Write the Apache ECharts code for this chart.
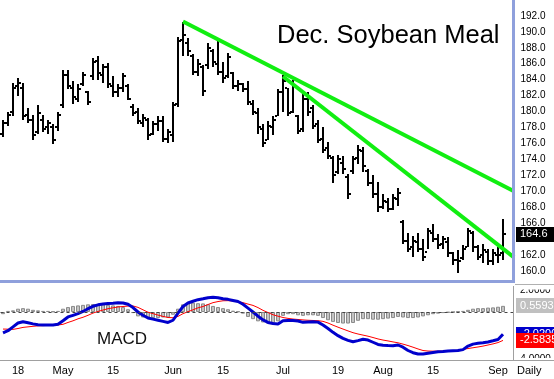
<!DOCTYPE html>
<html><head><meta charset="utf-8">
<script src="https://cdn.jsdelivr.net/npm/echarts@6/dist/echarts.min.js"></script>
<style>html,body{margin:0;padding:0;background:#fff}#c{width:554px;height:379px}</style>
</head><body><div id="c"></div>
<script>
// ---- price bars (index 0..100, daily) ----
const highs = [179.0,180.0,183.6,184.2,183.6,180.5,179.6,180.8,179.6,179.0,
178.4,179.9,185.2,185.2,183.8,183.4,185.0,182.6,186.7,187.0,
186.0,186.1,184.4,183.4,184.9,183.4,180.9,180.5,179.7,179.2,
178.8,179.4,179.4,177.8,181.2,189.4,191.3,189.2,187.2,186.6,
185.8,188.6,187.8,188.8,186.2,187.3,185.0,184.0,183.6,183.8,
181.5,180.4,178.4,178.8,179.5,182.8,184.6,183.0,184.0,179.6,
182.2,182.4,180.8,179.0,178.0,176.2,174.4,174.6,174.4,172.2,
174.4,175.8,175.6,172.8,172.0,171.2,169.6,169.2,169.6,170.4,
166.4,164.8,164.4,164.8,164.0,165.4,165.9,164.6,164.4,164.2,
162.4,162.6,163.2,165.4,165.0,163.2,163.4,162.8,162.8,163.0,166.5];
const lows = [176.8,178.2,179.5,182.0,179.0,178.6,176.4,177.2,177.4,177.2,
175.9,177.6,180.4,182.8,181.0,181.2,183.2,180.8,184.0,184.0,
183.6,183.0,181.8,181.8,182.4,181.4,179.4,178.4,178.0,176.4,
177.0,177.6,176.2,176.0,176.2,180.6,187.0,187.0,184.6,184.4,
182.0,185.4,185.6,184.6,183.6,184.2,182.8,182.6,182.4,180.8,
179.6,177.2,175.6,176.4,177.0,179.4,180.0,179.4,179.8,177.2,
177.4,179.4,177.8,176.0,174.8,174.0,171.0,172.2,172.2,169.0,
172.2,173.4,172.4,170.6,169.2,167.4,167.8,167.4,167.6,168.2,
163.4,162.4,161.8,162.4,161.2,162.8,163.6,162.8,162.8,161.8,
160.8,159.8,161.4,163.0,162.4,161.4,161.0,160.8,160.8,161.0,161.4];
const opens = [177.2,178.6,180.0,183.2,183.0,179.6,179.0,177.4,179.0,178.0,
178.0,178.0,180.8,184.6,183.0,181.6,183.4,182.4,184.4,186.4,
184.6,185.6,183.2,182.4,183.0,183.2,180.6,180.0,178.6,179.0,
177.2,178.4,178.8,176.6,177.0,181.0,189.0,188.6,187.0,185.0,
185.6,185.8,187.6,186.0,185.0,184.4,184.8,183.2,183.4,182.8,
181.0,179.8,177.8,176.4,178.0,179.4,182.4,183.0,180.0,179.4,
177.8,181.6,180.4,178.4,176.6,175.4,174.2,172.4,173.6,171.8,
172.6,174.2,175.0,172.6,171.0,169.6,168.0,168.6,167.8,169.0,
166.2,163.8,163.0,163.6,162.8,162.4,164.8,164.0,163.4,163.6,
162.2,161.4,161.6,163.0,164.8,163.0,162.0,162.4,161.2,162.0,162.2];
const closes = [178.6,179.6,183.0,183.6,179.4,179.0,177.0,179.8,177.8,178.6,
176.4,179.6,184.6,183.2,181.8,182.8,184.6,181.2,186.2,184.8,
185.6,183.4,182.4,183.0,184.4,181.6,179.8,178.8,179.2,177.0,
178.4,178.8,176.6,177.4,180.8,188.8,189.6,187.6,185.0,186.0,
182.6,188.0,186.2,185.0,184.2,186.8,183.2,183.4,182.8,181.2,
180.0,178.0,176.0,178.2,179.0,182.4,183.8,179.8,183.2,177.6,
181.6,180.0,178.2,176.4,175.2,174.4,172.0,174.0,172.8,169.6,
174.0,175.2,173.2,171.0,169.6,168.0,168.8,167.8,169.2,169.8,
163.8,162.8,163.8,162.8,161.8,165.0,164.0,163.2,164.0,162.2,
161.4,161.2,162.8,165.0,163.0,161.8,162.6,161.2,162.2,162.0,164.6];

// ---- MACD panel ----
const macdLine = [-1.9,-1.7,-1.35,-1.0,-0.88,-0.98,-1.08,-1.15,-1.18,-1.18,
-1.18,-1.12,-0.8,-0.45,-0.3,-0.15,0.05,0.3,0.52,0.65,
0.72,0.78,0.8,0.84,0.82,0.7,0.4,0.0,-0.3,-0.55,
-0.65,-0.75,-0.85,-0.95,-0.75,-0.1,0.5,0.82,0.98,1.12,
1.2,1.3,1.33,1.3,1.2,1.15,1.05,0.95,0.7,0.35,
0.0,-0.38,-0.72,-0.95,-1.05,-1.1,-0.8,-0.78,-0.78,-0.82,
-0.94,-0.9,-0.88,-0.92,-1.18,-1.5,-1.85,-2.15,-2.4,-2.58,
-2.7,-2.6,-2.48,-2.55,-2.75,-2.95,-3.02,-3.05,-3.06,-3.0,
-3.2,-3.5,-3.7,-3.82,-3.82,-3.75,-3.68,-3.62,-3.6,-3.55,
-3.52,-3.5,-3.42,-3.1,-2.92,-2.85,-2.8,-2.72,-2.62,-2.5,-2.02];
const signalLine = [-1.55,-1.56,-1.58,-1.5,-1.4,-1.35,-1.3,-1.26,-1.24,-1.22,
-1.2,-1.18,-1.12,-0.95,-0.8,-0.62,-0.48,-0.3,-0.1,0.05,
0.18,0.3,0.38,0.46,0.5,0.54,0.55,0.42,0.2,-0.02,
-0.15,-0.28,-0.4,-0.5,-0.52,-0.4,-0.15,0.03,0.2,0.38,
0.5,0.68,0.85,0.95,1.02,1.03,1.0,0.95,0.85,0.72,
0.6,0.4,0.15,-0.05,-0.25,-0.38,-0.5,-0.58,-0.64,-0.68,
-0.72,-0.75,-0.77,-0.79,-0.85,-1.0,-1.2,-1.38,-1.55,-1.72,
-1.88,-2.0,-2.1,-2.2,-2.32,-2.45,-2.55,-2.63,-2.72,-2.8,
-2.92,-3.05,-3.2,-3.36,-3.5,-3.55,-3.56,-3.56,-3.55,-3.53,
-3.52,-3.48,-3.4,-3.32,-3.25,-3.18,-3.1,-3.0,-2.9,-2.78,-2.5835];
const histogram = [-0.2,0.1,0.15,0.3,0.35,0.3,0.2,0.15,0.1,0.1,
0.05,0.1,0.3,0.45,0.55,0.6,0.65,0.7,0.72,0.72,
0.7,0.65,0.6,0.55,0.45,0.25,-0.1,-0.4,-0.5,-0.55,
-0.55,-0.55,-0.5,-0.5,-0.25,0.3,0.7,0.85,0.85,0.8,
0.78,0.7,0.55,0.45,0.35,0.25,0.12,0.05,-0.15,-0.45,
-0.65,-0.85,-0.95,-1.05,-1.0,-0.85,-0.35,-0.2,-0.2,-0.3,
-0.35,-0.3,-0.3,-0.35,-0.55,-0.75,-0.9,-1.0,-1.05,-1.05,
-1.0,-0.8,-0.65,-0.65,-0.7,-0.7,-0.65,-0.6,-0.55,-0.45,
-0.5,-0.55,-0.55,-0.5,-0.4,-0.3,-0.2,-0.15,-0.1,-0.05,
0.0,0.05,0.1,0.2,0.3,0.35,0.35,0.4,0.42,0.48,0.5593];
const macdAxisTicks = [2.0, -4.0];

// ---- trend lines (index, price) ----
const trend1 = [[36, 191.3], [102.2, 170.0]];
const trend2 = [[56, 184.4], [102.2, 161.7]];

// ---- x-axis labels ----
const tickIdx = [3, 12, 22, 34, 44, 56, 67, 76, 86, 99];
const tickLabels = ['18','May','15','Jun','15','Jul','19','Aug','15','Sep'];

const FONT = 'Liberation Sans';
const chart = echarts.init(document.getElementById('c'));

function renderOHLC(params, api) {
  const i = api.value(0);
  const o = api.coord([i, api.value(1)]);
  const h = api.coord([i, api.value(2)]);
  const l = api.coord([i, api.value(3)]);
  const c = api.coord([i, api.value(4)]);
  const x = Math.round(o[0]);
  const top = Math.round(h[1]);
  return { type: 'group', children: [
    { type: 'rect', shape: { x: x - 1, y: top, width: 2, height: Math.max(2, Math.round(l[1]) - top) }, style: { fill: '#000' } },
    { type: 'rect', shape: { x: x - 3, y: Math.round(o[1]) - 1, width: 2, height: 2 }, style: { fill: '#000' } },
    { type: 'rect', shape: { x: x + 1, y: Math.round(c[1]) - 1, width: 2, height: 2 }, style: { fill: '#000' } }
  ]};
}

const ohlc = opens.map((o, k) => [k, o, highs[k], lows[k], closes[k]]);
const toXY = arr => arr.map((v, k) => [k, v]);

chart.setOption({
  animation: false,
  backgroundColor: '#fff',
  grid: [
    { left: 0.5, width: 515, top: -3.85, height: 290.7 },
    { left: 0.5, width: 515, top: 268, height: 92.4 }
  ],
  xAxis: [
    { gridIndex: 0, type: 'value', min: -0.5, max: 102.5, show: false },
    { gridIndex: 1, type: 'value', min: -0.5, max: 102.5,
      axisLine: { show: false }, axisTick: { show: false }, splitLine: { show: false },
      axisLabel: { customValues: tickIdx, margin: 5, color: '#000', fontFamily: FONT, fontSize: 11,
        formatter: v => { const k = tickIdx.indexOf(Math.round(v)); return k >= 0 ? tickLabels[k] : ''; } } }
  ],
  yAxis: [
    { gridIndex: 0, type: 'value', position: 'right', min: 158, max: 194, interval: 2,
      axisLine: { show: false }, axisTick: { show: false }, splitLine: { show: false },
      axisLabel: { margin: 5, color: '#000', fontFamily: FONT, fontSize: 10,
        formatter: v => (v < 159 || v > 193) ? '' : v.toFixed(1) } },
    { gridIndex: 1, type: 'value', min: -4.4, max: 4, show: false }
  ],
  series: [
    { type: 'custom', xAxisIndex: 0, yAxisIndex: 0, data: ohlc, renderItem: renderOHLC,
      encode: { x: 0, y: [1, 2, 3, 4] }, z: 2 },
    { type: 'line', xAxisIndex: 0, yAxisIndex: 0, data: trend1, showSymbol: false,
      lineStyle: { color: '#11ee11', width: 4 }, z: 5 },
    { type: 'line', xAxisIndex: 0, yAxisIndex: 0, data: trend2, showSymbol: false,
      lineStyle: { color: '#11ee11', width: 4 }, z: 5 },
    { type: 'bar', xAxisIndex: 1, yAxisIndex: 1, data: toXY(histogram), barWidth: 4,
      itemStyle: { color: '#c4c4c4', borderColor: '#8a8a8a', borderWidth: 1 }, z: 2,
      markLine: { silent: true, symbol: 'none', label: { show: false },
        lineStyle: { color: '#444', type: [3, 3], width: 1 }, data: [{ yAxis: 0 }] } },
    { type: 'line', xAxisIndex: 1, yAxisIndex: 1, data: toXY(signalLine), showSymbol: false,
      lineStyle: { color: '#ff0000', width: 1 }, z: 3 },
    { type: 'line', xAxisIndex: 1, yAxisIndex: 1, data: toXY(macdLine), showSymbol: false,
      lineStyle: { color: '#0000cc', width: 3 }, z: 4 }
  ]
});

const py = v => chart.convertToPixel({ yAxisIndex: 0 }, v);
const my = v => chart.convertToPixel({ yAxisIndex: 1 }, v);
const lastPrice = closes[closes.length - 1];
const lastHist = histogram[histogram.length - 1];
const lastMacd = macdLine[macdLine.length - 1];
const lastSig = signalLine[signalLine.length - 1];

function box(yc, txt, bg, fg, z) {
  return [
    { type: 'rect', z: z, shape: { x: 516, y: Math.round(yc - 7.5), width: 40, height: 15 }, style: { fill: bg } },
    { type: 'text', z: z + 1, x: 520, y: Math.round(yc), style: { text: txt, fill: fg, font: '11px ' + FONT, textVerticalAlign: 'middle' } }
  ];
}

const g = [
  // price panel borders
  { type: 'rect', z: 10, shape: { x: 512, y: 0, width: 3, height: 283 }, style: { fill: '#8fa0dc' } },
  { type: 'rect', z: 10, shape: { x: 0, y: 280, width: 515, height: 3 }, style: { fill: '#8fa0dc' } },
  // macd axis labels (clipped by panel edges)
  { type: 'text', z: 15, x: 520, y: Math.round(my(macdAxisTicks[0])), style: { text: macdAxisTicks[0].toFixed(4), fill: '#000', font: '10px ' + FONT, textVerticalAlign: 'middle' } },
  { type: 'text', z: 15, x: 517, y: Math.round(my(macdAxisTicks[1])) + 3, style: { text: macdAxisTicks[1].toFixed(4), fill: '#000', font: '10px ' + FONT, textVerticalAlign: 'middle' } },
  { type: 'rect', z: 16, shape: { x: 515, y: 283, width: 40, height: 6.5 }, style: { fill: '#fff' } },
  { type: 'rect', z: 16, shape: { x: 515, y: 358, width: 40, height: 6 }, style: { fill: '#fff' } },
  { type: 'line', z: 17, shape: { x1: 515, y1: 284.5, x2: 554, y2: 284.5 }, style: { stroke: '#b0b0b0', lineWidth: 1 } },
  // macd panel borders
  { type: 'line', z: 10, shape: { x1: 513.5, y1: 286, x2: 513.5, y2: 360 }, style: { stroke: '#a0a0a0', lineWidth: 1 } },
  { type: 'line', z: 17, shape: { x1: 0, y1: 360.5, x2: 554, y2: 360.5 }, style: { stroke: '#a0a0a0', lineWidth: 1 } },
  // texts
  { type: 'text', z: 15, x: 277, y: 36, style: { text: 'Dec. Soybean Meal', fill: '#000', font: '25.5px ' + FONT, textVerticalAlign: 'middle' } },
  { type: 'text', z: 15, x: 97, y: 339, style: { text: 'MACD', fill: '#111', font: '17px ' + FONT, textVerticalAlign: 'middle' } },
  { type: 'text', z: 15, x: 517, y: 371, style: { text: 'Daily', fill: '#000', font: '11px ' + FONT, textVerticalAlign: 'middle' } }
]
.concat(box(py(lastPrice), lastPrice.toFixed(1), '#000', '#fff', 20))
.concat(box(my(lastHist), lastHist.toFixed(4), '#c0c0c0', '#fff', 20))
.concat(box(my(lastMacd), lastMacd.toFixed(4), '#0000cc', '#fff', 22))
.concat(box(my(lastSig), lastSig.toFixed(4), '#ff0000', '#fff', 24));

chart.setOption({ graphic: g });
</script>
</body></html>
